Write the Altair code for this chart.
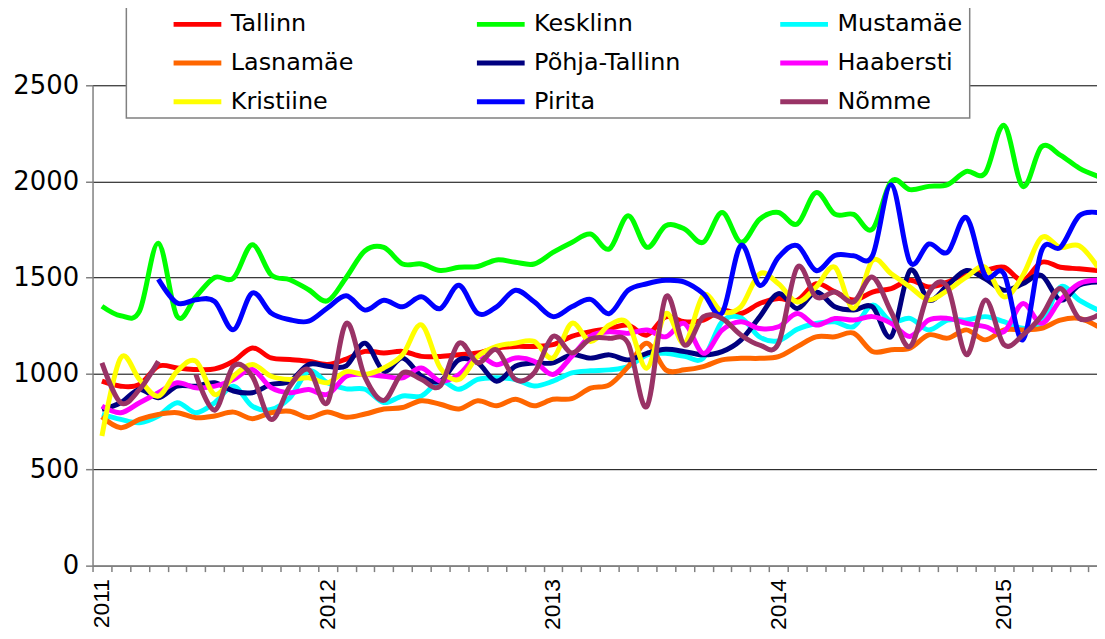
import altair as alt
import pandas as pd

# ---- data (monthly, Jan 2011 .. Jun 2015) ----
series_names = ["Tallinn", "Kesklinn", "Mustamäe", "Lasnamäe", "Põhja-Tallinn",
                "Haabersti", "Kristiine", "Pirita", "Nõmme"]
series_colors = ["#FF0000", "#00FF00", "#00FFFF", "#FF6600", "#000080",
                 "#FF00FF", "#FFFF00", "#0000FF", "#993366"]
# legend reads row by row: Tallinn, Kesklinn, Mustamäe / Lasnamäe, ... (filled column-wise)
legend_order = ["Tallinn", "Lasnamäe", "Kristiine", "Kesklinn", "Põhja-Tallinn",
                "Pirita", "Mustamäe", "Haabersti", "Nõmme"]

tallinn = [960, 934, 943, 1038, 1029, 1021, 1024, 1064, 1133, 1081, 1073, 1064, 1047,
           1075, 1115, 1107, 1115, 1089, 1089, 1098, 1107, 1132, 1141, 1141, 1150, 1193,
           1218, 1234, 1252, 1200, 1295, 1269, 1278, 1329, 1312, 1364, 1390, 1381, 1467,
           1425, 1382, 1424, 1442, 1485, 1450, 1476, 1519, 1536, 1553, 1485, 1579, 1553, 1545, 1536]
kesklinn = [1350, 1301, 1325, 1678, 1297, 1400, 1500, 1497, 1670, 1514, 1488, 1436, 1378,
            1500, 1639, 1656, 1570, 1570, 1536, 1553, 1557, 1591, 1579, 1570, 1630, 1682,
            1726, 1648, 1821, 1657, 1769, 1752, 1683, 1838, 1683, 1803, 1838, 1778, 1941,
            1829, 1828, 1751, 2000, 1957, 1974, 1983, 2052, 2043, 2292, 1974, 2180, 2137, 2069, 2026]
mustamae = [787, 761, 744, 779, 848, 796, 848, 934, 830, 813, 874, 1012, 952,
            920, 918, 849, 883, 883, 960, 918, 969, 978, 969, 935, 960, 1003,
            1014, 1019, 1036, 1097, 1105, 1090, 1080, 1270, 1290, 1190, 1170, 1230, 1260,
            1269, 1244, 1356, 1270, 1287, 1227, 1278, 1278, 1296, 1270, 1235, 1261, 1450, 1382, 1330]
lasnamae = [775, 718, 761, 787, 796, 770, 779, 799, 765, 796, 804, 770, 800,
            772, 789, 815, 823, 858, 840, 815, 858, 832, 866, 832, 866, 869,
            924, 941, 1036, 1157, 1019, 1019, 1036, 1071, 1079, 1079, 1088, 1140, 1191,
            1191, 1210, 1115, 1124, 1132, 1201, 1184, 1227, 1175, 1227, 1227, 1235, 1278, 1287, 1244]
pohja = [813, 848, 917, 874, 934, 934, 952, 909, 900, 943, 960, 1047, 1038,
         1040, 1158, 1012, 1081, 986, 960, 1072, 1055, 960, 1038, 1055, 1055, 1098,
         1080, 1097, 1071, 1105, 1126, 1114, 1097, 1114, 1174, 1295, 1416, 1338, 1424,
         1347, 1330, 1347, 1193, 1536, 1382, 1459, 1536, 1493, 1433, 1467, 1510, 1382, 1459, 1476]
haabersti = [830, 796, 848, 900, 952, 926, 934, 969, 1021, 926, 900, 917, 891,
             986, 995, 986, 978, 1029, 960, 995, 1089, 1046, 1081, 1064, 995, 1089,
             1195, 1217, 1209, 1226, 1191, 1260, 1105, 1226, 1269, 1234, 1243, 1312, 1252,
             1286, 1278, 1296, 1261, 1193, 1278, 1287, 1261, 1244, 1218, 1364, 1261, 1382, 1467, 1485]
kristiine = [675, 1081, 969, 882, 1012, 1064, 891, 986, 1047, 986, 969, 978, 952,
             1010, 995, 1029, 1098, 1253, 1029, 969, 1089, 1141, 1158, 1167, 1081, 1261,
             1166, 1252, 1260, 1028, 1312, 1157, 1407, 1321, 1347, 1519, 1467, 1372, 1450,
             1553, 1339, 1588, 1519, 1450, 1382, 1433, 1502, 1553, 1399, 1510, 1708, 1656, 1665, 1553]
pirita = [None, None, None, 1491, 1367, 1384, 1375, 1228, 1419, 1315, 1280, 1272, 1341,
          1405, 1330, 1381, 1347, 1399, 1338, 1459, 1313, 1347, 1433, 1373, 1296, 1347,
          1386, 1312, 1433, 1467, 1485, 1476, 1416, 1315, 1666, 1459, 1605, 1666, 1536,
          1614, 1613, 1613, 1983, 1579, 1674, 1631, 1811, 1510, 1519, 1175, 1639, 1656, 1820, 1837]
nomme = [1055, 848, 917, 1064, None, 995, 809, 1038, 986, 761, 934, 1021, 848,
         1261, 980, 860, 1003, 969, 935, 1158, 1055, 1124, 969, 1003, 1193, 1107,
         1180, 1183, 1157, 829, 1398, 1148, 1295, 1286, 1200, 1148, 1157, 1553, 1398,
         1424, 1373, 1502, 1320, 1141, 1420, 1450, 1098, 1382, 1150, 1200, 1300, 1442, 1287, 1304]

series_values = [tallinn, kesklinn, mustamae, lasnamae, pohja, haabersti, kristiine, pirita, nomme]

year_ticks = [0, 12, 24, 36, 48]
year_labels = ["2011", "2012", "2013", "2014", "2015"]
y_ticks = [0, 500, 1000, 1500, 2000, 2500]

rows = []
for name, vals in zip(series_names, series_values):
    seg = 0
    for i, v in enumerate(vals):
        if v is None:
            seg += 1
            continue
        rows.append({"m": i + 0.5, "series": name, "value": v, "seg": f"{name}-{seg}"})
df = pd.DataFrame(rows)

label_expr = " : ".join(
    [f"datum.value == {t} ? '{l}'" for t, l in zip(year_ticks, year_labels)]) + " : ''"

FONT = "DejaVu Sans"
color_map = dict(zip(series_names, series_colors))

lines = alt.Chart(df).mark_line(interpolate="cardinal", strokeWidth=5).encode(
    x=alt.X("m:Q",
            scale=alt.Scale(domain=[0, 53.45], nice=False, zero=False),
            axis=alt.Axis(values=list(range(54)), labelExpr=label_expr, labelAngle=270,
                          labelOffset=9.4, labelFlush=False, labelOverlap=False,
                          grid=False, tickSize=6, tickColor="#808080", tickWidth=1.5,
                          domainColor="#808080", domainWidth=1.5, labelPadding=7,
                          labelFont="Liberation Sans", labelFontSize=23,
                          labelColor="black", title=None)),
    y=alt.Y("value:Q",
            scale=alt.Scale(domain=[0, 2500], nice=False),
            axis=alt.Axis(values=y_ticks, format="d", grid=True, gridColor="black",
                          gridWidth=1, domainColor="#808080", domainWidth=1.5,
                          tickColor="#808080", tickWidth=1.5, tickSize=7, labelPadding=7,
                          labelFont=FONT, labelFontSize=26, labelColor="black", title=None)),
    color=alt.Color("series:N",
                    scale=alt.Scale(domain=legend_order,
                                    range=[color_map[n] for n in legend_order]),
                    legend=alt.Legend(orient="none", legendX=79, legendY=-88, columns=3,
                                      symbolType="stroke", symbolSize=2304,
                                      symbolStrokeWidth=5, labelFont=FONT,
                                      labelFontSize=24, labelColor="black",
                                      labelOffset=7, columnPadding=89, rowPadding=-10,
                                      gridAlign="all", padding=0, title=None)),
    detail="seg:N",
)

box = alt.Chart(pd.DataFrame({"k": [0]})).mark_rect(
    fill="white", stroke="#808080", strokeWidth=1.5
).encode(x=alt.value(34), x2=alt.value(882), y=alt.value(-79), y2=alt.value(33))

chart = alt.layer(lines, box).properties(
    width=1010, height=483,
    padding={"left": 85, "top": 76, "right": 0, "bottom": 64},
    autosize=alt.AutoSizeParams(type="none"),
    background="white",
).configure_view(stroke=None)

chart.save("out.html", embed_options={"renderer": "svg", "actions": False})
